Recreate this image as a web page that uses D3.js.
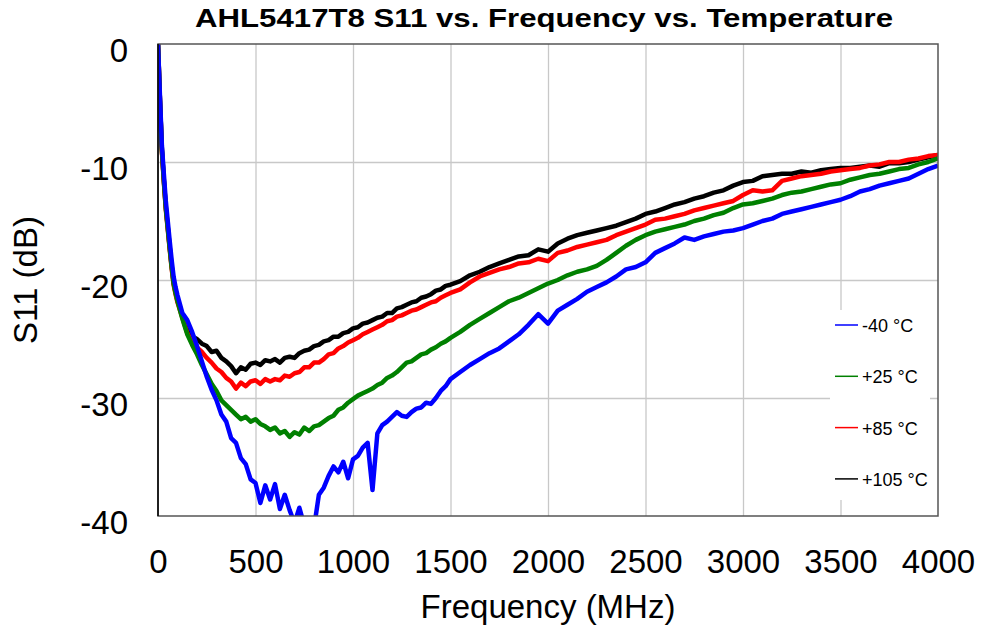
<!DOCTYPE html>
<html>
<head>
<meta charset="utf-8">
<script src="https://cdn.jsdelivr.net/npm/d3@7"></script>
<style>
  body { margin: 0; background: #fff; }
  text { font-family: Arial, "Liberation Sans", sans-serif; }
</style>
</head>
<body>
<div id="chart"></div>
<script>
// frequency points (MHz)
const freqMHz = [0, 10, 20, 30, 40, 50, 60, 70, 80, 90, 100,
  125, 150, 175, 200, 225, 250, 275, 300,
  325, 350, 375, 400, 425, 450, 475, 500,
  525, 550, 575, 600, 625, 650, 675, 700,
  725, 750, 775, 800, 825, 850, 875, 900,
  925, 950, 975, 1000, 1025, 1050, 1075, 1100,
  1125, 1150, 1175, 1200, 1225, 1250, 1275, 1300,
  1325, 1350, 1375, 1400, 1425, 1450, 1475, 1500,
  1550, 1600, 1650, 1700, 1750, 1800, 1850, 1900, 1950, 2000,
  2050, 2100, 2150, 2200, 2250, 2300, 2350, 2400, 2450, 2500,
  2550, 2600, 2650, 2700, 2750, 2800, 2850, 2900, 2950, 3000,
  3050, 3100, 3150, 3200, 3250, 3300, 3350, 3400, 3450, 3500,
  3550, 3600, 3650, 3700, 3750, 3800, 3850, 3900, 3950, 4000]

// S11 (dB) per temperature
const s11Minus40 = [0, -4.4, -8.6, -11.0, -13.3, -15.0, -16.7, -18.3, -19.7, -20.6, -21.3,
  -22.8, -23.4, -24.4, -25.6, -26.9, -28.2, -29.3, -30.2,
  -31.4, -32.0, -33.4, -33.8, -35.1, -35.6, -36.9, -37.2,
  -38.9, -37.4, -38.6, -37.3, -39.4, -38.2, -39.5, -40.6,
  -39.3, -40.8, -40.5, -41.0, -38.2, -37.6, -36.6, -35.8,
  -36.3, -35.4, -36.8, -35.2, -34.9, -34.2, -33.8, -37.8,
  -33.0, -32.3, -32.0, -31.6, -31.2, -31.5, -31.6, -31.2,
  -30.9, -30.8, -30.4, -30.5, -30.0, -29.4, -29.0, -28.4,
  -27.8, -27.2, -26.7, -26.2, -25.8, -25.2, -24.6, -23.8, -22.9, -23.7,
  -22.6, -22.1, -21.6, -21.0, -20.6, -20.2, -19.7, -19.1, -18.9, -18.5,
  -17.7, -17.3, -16.9, -16.4, -16.6, -16.3, -16.1, -15.9, -15.8, -15.6,
  -15.3, -15.0, -14.8, -14.4, -14.2, -14.0, -13.8, -13.6, -13.4, -13.2,
  -12.9, -12.5, -12.3, -12.0, -11.8, -11.6, -11.4, -11.0, -10.6, -10.3]

const s11Plus25 = [0, -4.8, -9.0, -11.6, -13.9, -15.6, -17.3, -18.9, -20.3, -21.1, -21.8,
  -23.3, -24.6, -25.5, -26.3, -27.2, -28.0, -28.8, -29.4,
  -30.2, -30.6, -31.0, -31.4, -31.8, -31.6, -32.0, -31.8,
  -32.2, -32.4, -32.7, -32.5, -33.0, -32.8, -33.3, -32.9,
  -33.1, -32.5, -32.8, -32.4, -32.3, -32.0, -31.7, -31.5,
  -31.0, -30.8, -30.4, -30.1, -29.8, -29.6, -29.4, -29.2,
  -28.9, -28.7, -28.3, -28.1, -27.8, -27.4, -27.0, -26.9,
  -26.6, -26.3, -26.2, -25.9, -25.7, -25.4, -25.2, -24.9,
  -24.4, -23.8, -23.3, -22.8, -22.3, -21.8, -21.5, -21.1, -20.7, -20.3,
  -20.0, -19.6, -19.3, -19.1, -18.8, -18.3, -17.7, -17.1, -16.6, -16.2,
  -15.9, -15.7, -15.5, -15.3, -15.0, -14.8, -14.5, -14.3, -13.9, -13.6,
  -13.5, -13.3, -13.1, -12.8, -12.6, -12.5, -12.3, -12.1, -11.9, -11.8,
  -11.5, -11.3, -11.1, -11.0, -10.8, -10.6, -10.5, -10.2, -10.0, -9.7]

const s11Plus85 = [0, -4.8, -9.1, -11.7, -14.0, -15.7, -17.4, -19.0, -20.4, -21.2, -21.9,
  -23.2, -24.5, -25.3, -25.7, -26.1, -26.6, -27.0, -27.5,
  -27.8, -28.3, -28.6, -29.2, -28.7, -29.0, -28.6, -28.5,
  -28.8, -28.4, -28.6, -28.4, -28.5, -28.1, -28.2, -27.9,
  -27.8, -27.4, -27.4, -27.0, -27.0, -26.7, -26.3, -26.2,
  -25.8, -25.6, -25.3, -25.1, -24.9, -24.6, -24.4, -24.2,
  -24.0, -23.8, -23.5, -23.4, -23.1, -23.0, -22.8, -22.6,
  -22.5, -22.3, -22.1, -21.9, -21.8, -21.5, -21.3, -21.1,
  -20.8, -20.2, -19.7, -19.4, -19.1, -18.9, -18.6, -18.5, -18.2, -18.4,
  -17.7, -17.5, -17.2, -17.0, -16.8, -16.6, -16.2, -15.9, -15.6, -15.3,
  -14.9, -14.8, -14.6, -14.4, -14.1, -13.9, -13.7, -13.5, -13.3, -12.8,
  -12.4, -12.5, -12.4, -11.6, -11.4, -11.2, -11.1, -11.0, -10.8, -10.7,
  -10.6, -10.5, -10.3, -10.2, -10.0, -10.0, -9.8, -9.7, -9.5, -9.4]

const s11Plus105 = [0, -4.7, -9.0, -11.5, -13.8, -15.5, -17.2, -18.8, -20.2, -21.0, -21.7,
  -23.0, -24.2, -24.8, -25.0, -25.4, -25.6, -26.1, -26.0,
  -26.6, -26.9, -27.3, -27.9, -27.4, -27.6, -27.1, -27.0,
  -27.2, -26.8, -26.9, -26.7, -27.0, -26.6, -26.5, -26.6,
  -26.2, -26.0, -25.9, -25.6, -25.5, -25.2, -25.1, -24.8,
  -24.8, -24.5, -24.4, -24.1, -24.0, -23.7, -23.6, -23.4,
  -23.2, -23.1, -22.8, -22.8, -22.4, -22.3, -22.1, -21.9,
  -21.8, -21.5, -21.4, -21.2, -20.9, -20.8, -20.5, -20.4,
  -20.1, -19.6, -19.3, -18.9, -18.6, -18.3, -18.0, -17.9, -17.4, -17.6,
  -16.9, -16.5, -16.2, -16.0, -15.8, -15.6, -15.4, -15.1, -14.8, -14.4,
  -14.2, -13.9, -13.6, -13.4, -13.1, -12.9, -12.6, -12.4, -12.0, -11.7,
  -11.6, -11.2, -11.1, -11.0, -11.0, -10.8, -10.9, -10.7, -10.6, -10.5,
  -10.5, -10.4, -10.3, -10.4, -10.1, -10.1, -10.0, -9.8, -9.6, -9.4]

const legendLabels = ["-40 °C", "+25 °C", "+85 °C", "+105 °C"]
const seriesColors = ["#0000ff", "#008000", "#ff0000", "#000000"]
const xTicks = [0, 500, 1000, 1500, 2000, 2500, 3000, 3500, 4000]
const yTicks = [0, -10, -20, -30, -40]

const width = 986, height = 632
const margin = { top: 44, right: 48, bottom: 116, left: 158 }

const series = [s11Minus40, s11Plus25, s11Plus85, s11Plus105].map((vals, i) => {
  if (vals.length !== freqMHz.length) console.warn("length mismatch", legendLabels[i], vals.length)
  return { label: legendLabels[i], color: seriesColors[i], points: vals.map((v, j) => [freqMHz[j], v]) }
})

const xScale = d3.scaleLinear().domain([0, 4000]).range([margin.left, width - margin.right])
const yScale = d3.scaleLinear().domain([-40, 0]).range([height - margin.bottom, margin.top])

const svg = d3.select("#chart").append("svg")
  .attr("width", width)
  .attr("height", height)

// Title (stretched a bit wider like the original)
svg.append("text")
  .text("AHL5417T8 S11 vs. Frequency vs. Temperature")
  .attr("x", 544)
  .attr("y", 27)
  .attr("text-anchor", "middle")
  .attr("font-size", 25)
  .attr("font-weight", "bold")
  .attr("textLength", 698)
  .attr("lengthAdjust", "spacingAndGlyphs")

// Grid
svg.append("g")
  .attr("transform", "translate(0," + (height - margin.bottom) + ")")
  .call(d3.axisBottom(xScale).tickValues(xTicks.slice(1, -1)).tickSize(-(height - margin.top - margin.bottom)).tickFormat(""))
  .call(g => g.select(".domain").remove())
  .call(g => g.selectAll("line").attr("stroke", "#c8c8c8").attr("stroke-width", 1.3))

svg.append("g")
  .attr("transform", "translate(" + margin.left + ",0)")
  .call(d3.axisLeft(yScale).tickValues(yTicks.slice(1, -1)).tickSize(-(width - margin.left - margin.right)).tickFormat(""))
  .call(g => g.select(".domain").remove())
  .call(g => g.selectAll("line").attr("stroke", "#c8c8c8").attr("stroke-width", 1.3))

// Lines
svg.append("clipPath").attr("id", "plot-clip")
  .append("rect")
    .attr("x", margin.left)
    .attr("y", margin.top)
    .attr("width", width - margin.left - margin.right)
    .attr("height", height - margin.top - margin.bottom)

const line = d3.line().x(d => xScale(d[0])).y(d => yScale(d[1]))

// draw order: +105 at the back, -40 on top
svg.append("g")
  .attr("clip-path", "url(#plot-clip)")
  .selectAll("path")
  .data(series.slice().reverse()).enter()
    .append("path")
      .attr("d", d => line(d.points))
      .attr("fill", "none")
      .attr("stroke", d => d.color)
      .attr("stroke-width", 4.5)
      .attr("stroke-linejoin", "round")

// Legend
const legend = svg.append("g")
legend.append("rect")
  .attr("x", 830).attr("y", 310)
  .attr("width", 100).attr("height", 190)
  .attr("fill", "#fff")
legend.selectAll("g")
  .data(series).enter()
    .append("g")
      .attr("transform", (d, i) => "translate(835," + (325 + i * 51.3) + ")")
      .each(function(d) {
        const g = d3.select(this)
        g.append("line").attr("x1", 0).attr("x2", 23).attr("stroke", d.color).attr("stroke-width", 1.5)
        g.append("text").text(d.label).attr("x", 27).attr("y", 7).attr("font-size", 18)
      })

// Frame
svg.append("rect")
  .attr("x", margin.left).attr("y", margin.top)
  .attr("width", width - margin.left - margin.right)
  .attr("height", height - margin.top - margin.bottom)
  .attr("fill", "none")
  .attr("stroke", "#555")
  .attr("stroke-width", 1.5)
svg.append("line")
  .attr("x1", margin.left).attr("x2", margin.left)
  .attr("y1", margin.top).attr("y2", height - margin.bottom)
  .attr("stroke", "#000").attr("stroke-width", 1.5)

// X Axis labels
svg.append("g")
  .attr("transform", "translate(0," + (height - margin.bottom) + ")")
  .call(d3.axisBottom(xScale).tickValues(xTicks).tickSize(0).tickPadding(0).tickFormat(d => String(d)))
  .call(g => g.select(".domain").remove())
  .call(g => g.selectAll("text").attr("font-size", 33).attr("font-family", "Arial, 'Liberation Sans', sans-serif")
    .attr("fill", "#000").attr("y", 57).attr("dy", 0))

svg.append("text")
  .text("Frequency (MHz)")
  .attr("x", (margin.left + width - margin.right) / 2)
  .attr("y", 618)
  .attr("text-anchor", "middle")
  .attr("font-size", 33)

// Y Axis labels
svg.append("g")
  .attr("transform", "translate(" + margin.left + ",0)")
  .call(d3.axisLeft(yScale).tickValues(yTicks).tickSize(0).tickPadding(0).tickFormat(d => String(d)))
  .call(g => g.select(".domain").remove())
  .call(g => g.selectAll("text").attr("font-size", 33).attr("font-family", "Arial, 'Liberation Sans', sans-serif")
    .attr("fill", "#000").attr("x", -30).attr("dy", 17))

svg.append("text")
  .text("S11 (dB)")
  .attr("text-anchor", "middle")
  .attr("font-size", 33)
  .attr("transform", "translate(37," + (height - margin.bottom + margin.top) / 2 + ")rotate(-90)")
</script>
</body>
</html>
